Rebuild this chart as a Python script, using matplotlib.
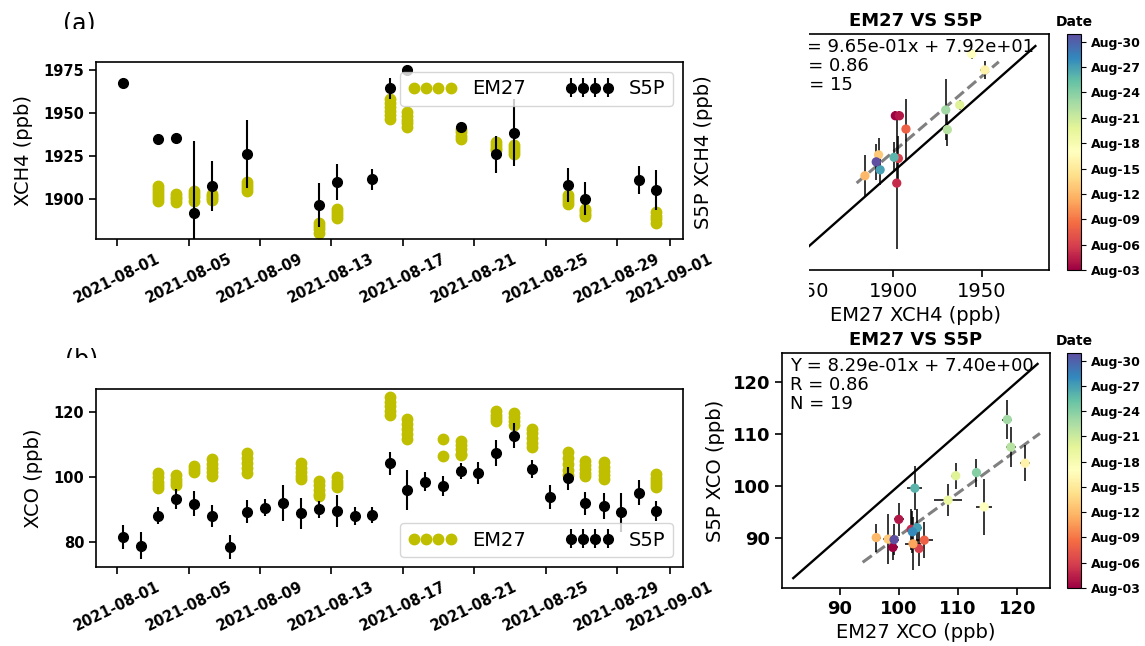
import numpy as np
import pandas as pd
import matplotlib
matplotlib.use('Agg')
import matplotlib.pyplot as plt
import matplotlib.dates as mdates
from matplotlib.colors import Normalize
from matplotlib.cm import ScalarMappable
from matplotlib.patches import Rectangle

# czas przelotu S5P (dzien sierpnia z ulamkiem), dni 1..31
s5p_day = [1.30, 2.31, 3.30, 4.30, 5.29, 6.28, 7.29, 8.29, 9.30, 10.29, 11.30,
           12.29, 13.30, 14.30, 15.29, 16.26, 17.26, 18.25, 19.26, 20.25, 21.22,
           22.24, 23.25, 24.26, 25.25, 26.25, 27.24, 28.25, 29.24, 30.24, 31.21]

# S5P XCH4
s5p_ch4_days = [1, 3, 4, 5, 6, 8, 12, 13, 15, 16, 17, 20, 22, 23, 26, 27, 30, 31]
s5p_ch4 = [1967.6, 1934.8, 1935.4, 1891.9, 1907.7, 1926.3, 1896.7, 1909.9, 1911.6,
           1964.4, 1975.0, 1942.1, 1926.1, 1938.6, 1908.3, 1900.3, 1911.2, 1905.4]
s5p_ch4_err = [3, 3, 3, 42, 14.5, 19.5, 13, 10.5, 6, 6, 3, 3, 10.7, 19.5, 9.7, 9.6, 8.3, 11.6]

# S5P XCO (wszystkie dni)
s5p_co = [81.5, 79.0, 88.2, 93.4, 91.9, 88.1, 78.6, 89.4, 90.6, 92.0, 88.9, 90.2,
          89.7, 88.2, 88.4, 104.3, 96.1, 98.7, 97.3, 102.0, 101.4, 107.6, 112.8,
          102.6, 94.0, 99.7, 92.0, 91.3, 89.2, 95.3, 89.7]
s5p_co_err = [3.7, 4.1, 2.7, 3.0, 3.9, 3.4, 3.7, 3.5, 2.6, 5.5, 4.7, 2.6, 4.9, 2.8,
              2.5, 3.6, 6.2, 3.0, 3.0, 2.5, 3.4, 4.0, 3.8, 2.7, 3.7, 3.6, 3.6, 4.0,
              6.0, 3.8, 3.0]

# EM27 XCH4 - pomiary w czasie przelotu
em27_ch4_days = [3, 4, 5, 6, 8, 12, 13, 16, 17, 20, 22, 23, 26, 27, 31]
em27_ch4 = [[1907.5, 1905.8, 1904.0, 1902.6, 1901.0, 1899.3],
            [1902.8, 1901.5, 1900.2, 1898.7],
            [1904.8, 1903.0, 1901.4, 1899.2],
            [1903.1, 1901.8, 1900.5, 1899.7],
            [1910.0, 1908.4, 1906.5, 1904.6],
            [1886.3, 1884.6, 1882.8, 1880.7],
            [1894.6, 1892.9, 1891.0, 1889.2],
            [1958.4, 1956.0, 1953.5, 1951.2, 1948.8, 1946.4],
            [1950.6, 1948.3, 1946.0, 1944.0, 1942.0],
            [1941.0, 1939.0, 1936.8, 1934.8],
            [1933.2, 1931.5, 1929.8, 1928.4],
            [1931.7, 1929.8, 1928.0, 1926.5],
            [1902.3, 1900.6, 1898.9, 1897.5],
            [1894.6, 1893.0, 1891.5, 1890.2],
            [1892.6, 1890.5, 1888.4, 1886.5]]

# EM27 XCO
em27_co_days = [3, 4, 5, 6, 8, 11, 12, 13, 16, 17, 19, 20, 22, 23, 24, 26, 27, 28, 31]
em27_co = [[101.3, 100.0, 98.6, 97.5, 96.8],
           [100.8, 99.6, 98.5, 97.5],
           [103.4, 102.6, 101.6],
           [105.7, 104.2, 102.8, 101.5, 100.4],
           [107.5, 106.0, 104.4, 102.8, 101.4],
           [104.4, 103.0, 101.6, 100.4, 99.6],
           [98.8, 97.5, 96.2, 95.0, 94.3],
           [100.0, 98.9, 97.9, 97.0],
           [124.7, 123.3, 121.9, 120.5, 119.3],
           [118.1, 116.5, 114.9, 113.2, 111.7],
           [111.7, 106.6],
           [111.3, 110.0, 108.6, 107.3, 106.9],
           [120.3, 119.2, 118.2, 117.3],
           [119.8, 118.5, 117.2, 116.0],
           [115.0, 113.5, 112.0, 110.5, 109.3],
           [107.7, 106.0, 104.2, 102.3, 100.6],
           [105.1, 103.8, 102.5, 101.3, 100.4],
           [104.6, 103.3, 102.0, 100.7, 99.6],
           [101.0, 99.9, 98.9, 97.9, 97.0]]

# wykres rozrzutu XCH4 (dni jak em27_ch4_days)
sc_ch4_x = [1901.1, 1903.4, 1901.9, 1902.8, 1907.1, 1883.9, 1891.6, 1951.7, 1944.2,
            1937.5, 1930.5, 1929.6, 1900.4, 1892.5, 1890.3]
sc_ch4_xerr = [2, 2, 2, 2, 2, 2, 2, 2.5, 2, 2, 2, 2, 2, 2, 2]
sc_ch4_y = [1935.7, 1935.7, 1892.6, 1908.4, 1927.2, 1897.3, 1910.7, 1965.0, 1975.3,
            1942.6, 1926.8, 1939.4, 1909.1, 1901.1, 1906.2]
sc_ch4_yerr = [3, 3, 42, 14.5, 19.5, 13, 10.5, 6, 3, 3, 10.7, 19.5, 9.7, 9.6, 11.6]

# wykres rozrzutu XCO (dni jak em27_co_days)
sc_co_x = [99.0, 100.0, 102.1, 103.4, 104.3, 102.4, 96.2, 98.2, 121.3, 114.4, 108.3,
           109.6, 118.9, 118.3, 113.1, 102.7, 103.1, 102.3, 99.2]
sc_co_xerr = [0.8, 0.8, 0.8, 0.8, 1.4, 1.3, 0.8, 0.8, 0.8, 1.3, 2.3, 0.8, 0.8, 0.85,
              0.8, 1.25, 0.8, 0.8, 0.8]
sc_co_y = [88.1, 93.5, 91.6, 87.9, 89.5, 88.8, 90.0, 89.7, 104.3, 95.9, 97.2, 101.9,
           107.4, 112.7, 102.5, 99.5, 91.9, 91.1, 89.6]
sc_co_yerr = [2.4, 3.2, 3.9, 3.4, 3.5, 5.1, 2.7, 4.8, 3.5, 5.4, 3.1, 2.5, 3.8, 3.7,
              2.7, 4.2, 3.6, 4.0, 3.0]

# regresja
fit_ch4 = (0.965, 79.2, 0.86, 15)
fit_co = (0.829, 7.40, 0.86, 19)
fit_ch4_x = [1879.2, 1959.6]
fit_co_x = [93.9, 123.8]
one_ch4 = [1852.2, 1980.3]
one_co = [82.2, 123.4]

tick_dates = ['2021-08-01', '2021-08-05', '2021-08-09', '2021-08-13', '2021-08-17',
              '2021-08-21', '2021-08-25', '2021-08-29', '2021-09-01']
cbar_labels = ['Aug-03', 'Aug-06', 'Aug-09', 'Aug-12', 'Aug-15', 'Aug-18',
               'Aug-21', 'Aug-24', 'Aug-27', 'Aug-30']


def when(days):
    return pd.Timestamp('2021-08-01') + pd.to_timedelta(np.asarray(days, dtype=float) - 1, unit='D')


def overpass(days):
    return [s5p_day[d - 1] for d in days]


W, H = 1145, 646
fig = plt.figure(figsize=(W / 100, H / 100), dpi=100)


def box(l, t, r, b):
    return [l / W, 1 - b / H, (r - l) / W, (b - t) / H]


ax1 = fig.add_axes(box(96, 62, 683, 239))
ax2 = fig.add_axes(box(96, 389, 683, 567))
ax3 = fig.add_axes(box(782, 34, 1049, 270))
ax4 = fig.add_axes(box(782, 353, 1050, 588))
cax3 = fig.add_axes(box(1067, 34, 1081, 270))
cax4 = fig.add_axes(box(1067, 353, 1081, 588))

# szeregi czasowe
panels = [
    (ax1, em27_ch4_days, em27_ch4, s5p_ch4_days, s5p_ch4, s5p_ch4_err,
     'XCH4 (ppb)', [1900, 1925, 1950, 1975], (1877, 1979.6), 'upper right', -0.107),
    (ax2, em27_co_days, em27_co, list(range(1, 32)), s5p_co, s5p_co_err,
     'XCO (ppb)', [80, 100, 120], None, 'lower right', -0.090),
]
for ax, ed, ev, sd, sv, se, ylab, yt, ylim, loc, lx in panels:
    ex = np.concatenate([[s5p_day[d - 1]] * len(v) for d, v in zip(ed, ev)])
    ey = np.concatenate(ev)
    ax.plot(when(ex), ey, 'o', color='y', ms=7.5, label='EM27')
    ax.errorbar(when(overpass(sd)), sv, yerr=se, fmt='o', color='k', ms=7,
                elinewidth=1.5, label='S5P')
    ax.set_xticks(pd.to_datetime(tick_dates))
    ax.set_xticklabels(tick_dates, rotation=26, fontsize=10.5, fontweight='bold')
    ax.set_yticks(yt)
    ax.set_yticklabels([str(v) for v in yt], fontsize=10.5, fontweight='bold')
    if ylim:
        ax.set_ylim(*ylim)
    ax.set_ylabel(ylab, fontsize=14)
    ax.yaxis.set_label_coords(lx, 0.5)
    ax.tick_params(width=1.2, length=5)
    for s in ax.spines.values():
        s.set_linewidth(1.2)
    ax.legend(loc=loc, ncol=2, numpoints=4, fontsize=14, handlelength=2.5)

# rozrzut
cmap = plt.get_cmap('Spectral')
vmin = mdates.date2num(when(s5p_day[2]))
vmax = mdates.date2num(when(s5p_day[30]))
norm = Normalize(vmin=vmin, vmax=vmax)

scatters = [
    (ax3, cax3, sc_ch4_x, sc_ch4_xerr, sc_ch4_y, sc_ch4_yerr, em27_ch4_days, fit_ch4,
     fit_ch4_x, one_ch4, (1837, 1988), [1850, 1900, 1950], 'normal', 14,
     'EM27 XCH4 (ppb)', 'S5P XCH4 (ppb)', -0.2566),
    (ax4, cax4, sc_co_x, sc_co_xerr, sc_co_y, sc_co_yerr, em27_co_days, fit_co,
     fit_co_x, one_co, (80.3, 125.5), [90, 100, 110, 120], 'bold', 13,
     'EM27 XCO (ppb)', 'S5P XCO (ppb)', -0.2127),
]
for (ax, cax, x, xe, y, ye, days, fit, fx, one, lim, ticks, tw, ts,
     xlab, ylab, lx) in scatters:
    a, b, r, n = fit
    c = mdates.date2num(when(overpass(days)))
    ax.errorbar(x, y, xerr=xe, yerr=ye, fmt='none', ecolor='k', elinewidth=1.1, zorder=2)
    ax.scatter(x, y, c=c, cmap=cmap, norm=norm, s=32, zorder=3)
    ax.plot(one, one, 'k-', lw=1.7, zorder=1)
    fx = np.array(fx)
    ax.plot(fx, a * fx + b, '--', color='gray', lw=2.2, zorder=1)
    ax.text(0.03, 0.985, f'Y = {a:.2e}x + {b:.2e}\nR = {r:.2f}\nN = {n}',
            transform=ax.transAxes, va='top', ha='left', fontsize=13, linespacing=1.1)
    ax.set_xlim(*lim)
    ax.set_ylim(*lim)
    ax.set_xticks(ticks)
    ax.set_xticklabels([str(v) for v in ticks], fontsize=ts, fontweight=tw)
    ax.set_yticks(ticks)
    ax.set_yticklabels([str(v) for v in ticks], fontsize=ts, fontweight=tw)
    ax.set_title('EM27 VS S5P', fontsize=13, fontweight='bold')
    ax.set_xlabel(xlab, fontsize=14)
    ax.set_ylabel(ylab, fontsize=14)
    ax.yaxis.set_label_coords(lx, 0.5)
    ax.tick_params(width=1.2, length=5)
    for s in ax.spines.values():
        s.set_linewidth(1.2)

    cb = fig.colorbar(ScalarMappable(norm=norm, cmap=cmap), cax=cax)
    cb.set_ticks([vmin + 3 * k for k in range(len(cbar_labels))])
    cb.set_ticklabels(cbar_labels, fontsize=9, fontweight='bold')
    cax.set_title('Date', fontsize=10, fontweight='bold')

# biale zakrycia jak w oryginalnym zlozeniu
fig.add_artist(Rectangle((716 / W, 1 - 302 / H), (809 - 716) / W, 302 / H,
                         transform=fig.transFigure, facecolor='white',
                         edgecolor='none', zorder=10))
fig.text(63 / W, 1 - 12 / H, '(a)', fontsize=17, va='top', ha='left')
fig.text(65 / W, 1 - 347 / H, '(b)', fontsize=17, va='top', ha='left')
fig.add_artist(Rectangle((50 / W, 1 - 60 / H), 70 / W, 31 / H, transform=fig.transFigure,
                         facecolor='white', edgecolor='none', zorder=10))
fig.add_artist(Rectangle((50 / W, 1 - 388 / H), 70 / W, 30 / H, transform=fig.transFigure,
                         facecolor='white', edgecolor='none', zorder=10))

fig.savefig('out.png', dpi=100)
